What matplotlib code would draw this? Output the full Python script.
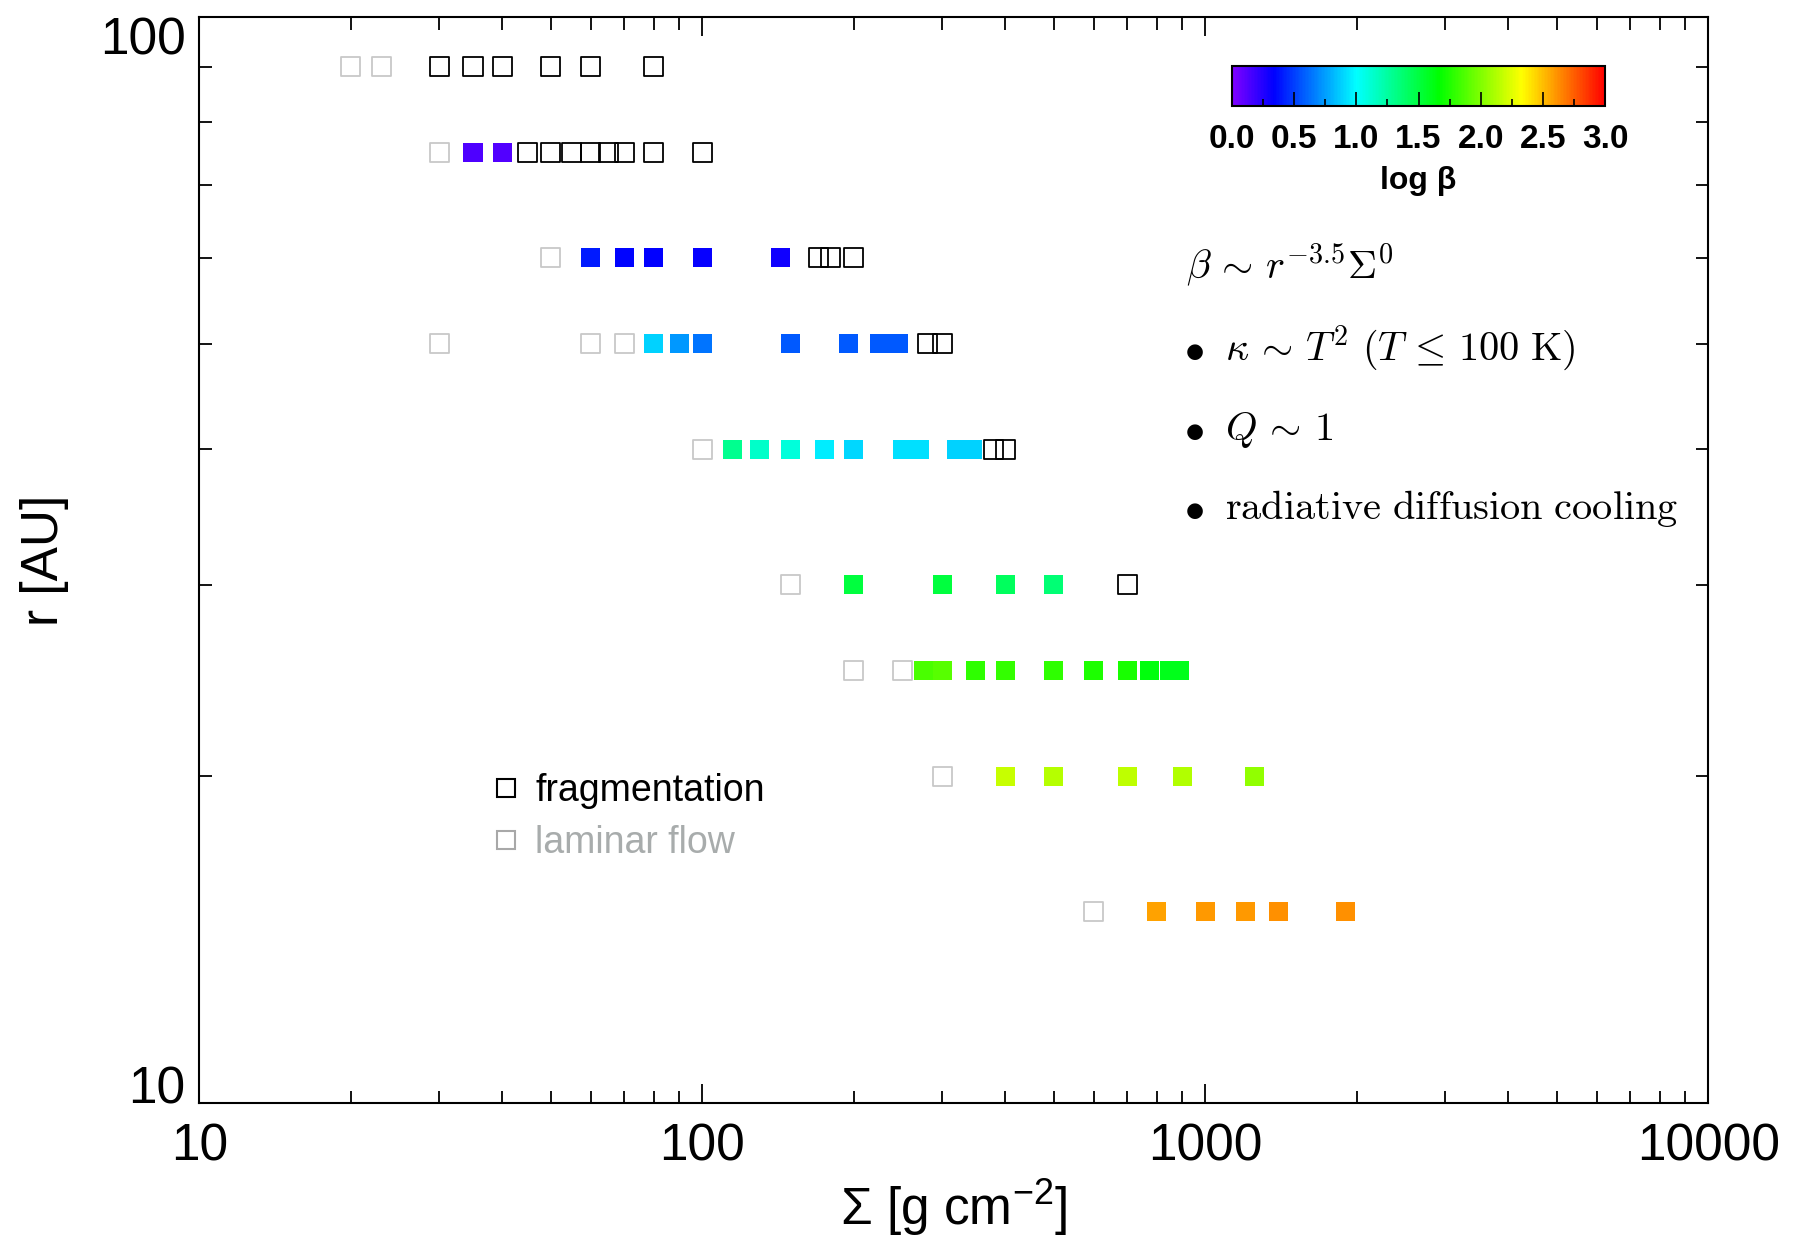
import matplotlib
matplotlib.use("Agg")
import matplotlib.pyplot as plt
from matplotlib.colors import LinearSegmentedColormap, Normalize
from matplotlib.cm import ScalarMappable
from matplotlib.lines import Line2D
from matplotlib.ticker import MultipleLocator, LogLocator, NullFormatter

plt.rcParams['font.family'] = ['Liberation Sans', 'DejaVu Sans']
plt.rcParams['mathtext.fontset'] = 'custom'
plt.rcParams['mathtext.rm'] = 'Liberation Sans'
plt.rcParams['mathtext.it'] = 'Liberation Sans:italic'
plt.rcParams['mathtext.bf'] = 'Liberation Sans:bold'

# --- data ---
# fragmentation runs (open black squares)
frag_sigma = [30, 35, 40, 50, 60, 80,
              45, 50, 55, 60, 65, 70, 80, 100,
              170, 180, 200,
              280, 300,
              380, 400,
              700]
frag_r = [90] * 6 + [75] * 8 + [60] * 3 + [50] * 2 + [40] * 2 + [30]

# laminar runs (open grey squares)
lam_sigma = [20, 23, 30, 50, 30, 60, 70, 100, 150, 200, 250, 300, 600]
lam_r = [90, 90, 75, 60, 50, 50, 50, 40, 30, 25, 25, 20, 15]

# gravito-turbulent runs (filled, coloured by log beta)
turb_sigma = [35, 40,
              60, 70, 80, 100, 143,
              80, 90, 100, 150, 195, 225, 245,
              115, 130, 150, 175, 200, 250, 270, 320, 345,
              200, 300, 400, 500,
              275, 300, 350, 400, 500, 600, 700, 775, 850, 890,
              400, 500, 700, 900, 1250,
              800, 1000, 1200, 1400, 1900]
turb_r = [75] * 2 + [60] * 5 + [50] * 7 + [40] * 9 + [30] * 4 + [25] * 10 + [20] * 5 + [15] * 5
turb_logbeta = [0.13, 0.12,
                0.40, 0.34, 0.33, 0.32, 0.30,
                0.88, 0.73, 0.64, 0.57, 0.57, 0.57, 0.57,
                1.30, 1.145, 1.09, 0.955, 0.90, 0.925, 0.925, 0.89, 0.89,
                1.50, 1.50, 1.42, 1.37,
                1.855, 1.89, 1.79, 1.80, 1.79, 1.745, 1.73, 1.64, 1.60, 1.60,
                2.18, 2.14, 2.16, 2.13, 2.04,
                2.57, 2.59, 2.59, 2.62, 2.62]

cbar_ticks = [0.0, 0.5, 1.0, 1.5, 2.0, 2.5, 3.0]

# IDL-like rainbow: purple -> blue -> cyan -> green -> yellow -> red
cmap = LinearSegmentedColormap.from_list('idl_rainbow', [
    (0.0, (0.5, 0.0, 1.0)),
    (1 / 9, (0.0, 0.0, 1.0)),
    (3 / 9, (0.0, 1.0, 1.0)),
    (5 / 9, (0.0, 1.0, 0.0)),
    (7 / 9, (1.0, 1.0, 0.0)),
    (1.0, (1.0, 0.0, 0.0))])
norm = Normalize(vmin=0, vmax=3)

fig = plt.figure(figsize=(18.01, 12.37), dpi=100)
ax = fig.add_axes([0.1107, 0.1083, 0.8378, 0.878])

msize = 188
ax.scatter(lam_sigma, lam_r, s=msize, marker='s', facecolors='none',
           edgecolors='#c8c8c8', linewidths=1.3, zorder=3)
ax.scatter(turb_sigma, turb_r, s=msize, marker='s', c=turb_logbeta,
           cmap=cmap, norm=norm, linewidths=0, zorder=3)
ax.scatter(frag_sigma, frag_r, s=msize, marker='s', facecolors='none',
           edgecolors='black', linewidths=1.3, zorder=4)

ax.set_xscale('log')
ax.set_yscale('log')
ax.set_xlim(10, 10000)
ax.set_ylim(10, 100)

ax.set_xticks([10, 100, 1000, 10000], labels=['10', '100', '1000', '10000'])
ax.set_yticks([10, 100], labels=['10', '100'])
ax.xaxis.set_minor_locator(LogLocator(base=10, subs=range(2, 10)))
ax.yaxis.set_minor_locator(LogLocator(base=10, subs=range(2, 10)))
ax.xaxis.set_minor_formatter(NullFormatter())
ax.yaxis.set_minor_formatter(NullFormatter())
ax.tick_params(which='both', direction='in', top=True, right=True, width=1.3)
ax.tick_params(which='major', length=14, labelsize=37)
ax.tick_params(axis='x', which='major', pad=14)
ax.tick_params(axis='y', which='major', pad=10)
ax.tick_params(which='minor', length=9)
ylabs = ax.get_yticklabels()
ylabs[0].set_va('baseline')
ylabs[1].set_va('top')
ylabs[1].set_y(100)
for sp in ax.spines.values():
    sp.set_linewidth(1.5)

ax.set_xlabel('Σ [g cm$^{-2}$]', fontsize=37, labelpad=4)
ax.set_ylabel('r [AU]', fontsize=37, labelpad=22)

# legend
handles = [Line2D([], [], ls='none', marker='s', ms=13, mfc='none', mec='black', mew=1.5),
           Line2D([], [], ls='none', marker='s', ms=13, mfc='none', mec='#a8a8a8', mew=1.5)]
leg = ax.legend(handles, ['fragmentation', 'laminar flow'], loc='center left',
                bbox_to_anchor=(487 / 1801, 1 - 817 / 1237), bbox_transform=fig.transFigure,
                frameon=False, fontsize=27, handlelength=1.0, handletextpad=0.28,
                labelspacing=0.42, borderpad=0, borderaxespad=0)
leg.get_texts()[1].set_color('#a8acac')

# colorbar
cax = fig.add_axes([1232 / 1801, 1 - 106 / 1237, 373 / 1801, 40 / 1237])
cb = fig.colorbar(ScalarMappable(norm=norm, cmap=cmap), cax=cax, orientation='horizontal')
cb.set_ticks(cbar_ticks, labels=['%.1f' % t for t in cbar_ticks])
cax.xaxis.set_minor_locator(MultipleLocator(0.25))
cax.tick_params(which='major', direction='in', length=10, width=1.2, top=False,
                labelsize=24, pad=13)
cax.tick_params(which='minor', direction='in', length=5, width=1.2)
for t in cax.get_xticklabels():
    t.set_fontweight('bold')
cb.outline.set_linewidth(1.5)
cb.set_label('log β', fontsize=23, fontweight='bold', labelpad=8)

# annotation block (LaTeX style)
tx = 1225 / 1801
bx = 1194 / 1801
fs = 29
fig.text(1186 / 1801, 1 - 279 / 1237, r'$\beta\,\sim\,r^{-3.5}\Sigma^0$', fontsize=fs,
         math_fontfamily='cm', va='baseline')
lines = [r'$\kappa\,\sim\,T^2\ (T\,\leq\,100\ \mathrm{K})$',
         r'$Q\,\sim\,1$',
         r'$\mathrm{radiative\ diffusion\ cooling}$']
base_y = [360, 440, 519]
for s, yb in zip(lines, base_y):
    fig.text(bx, 1 - yb / 1237, r'$\bullet$', fontsize=fs, math_fontfamily='cm',
             va='baseline', ha='center')
    fig.text(tx, 1 - yb / 1237, s, fontsize=fs, math_fontfamily='cm', va='baseline')

fig.savefig('out.png', dpi=100)
